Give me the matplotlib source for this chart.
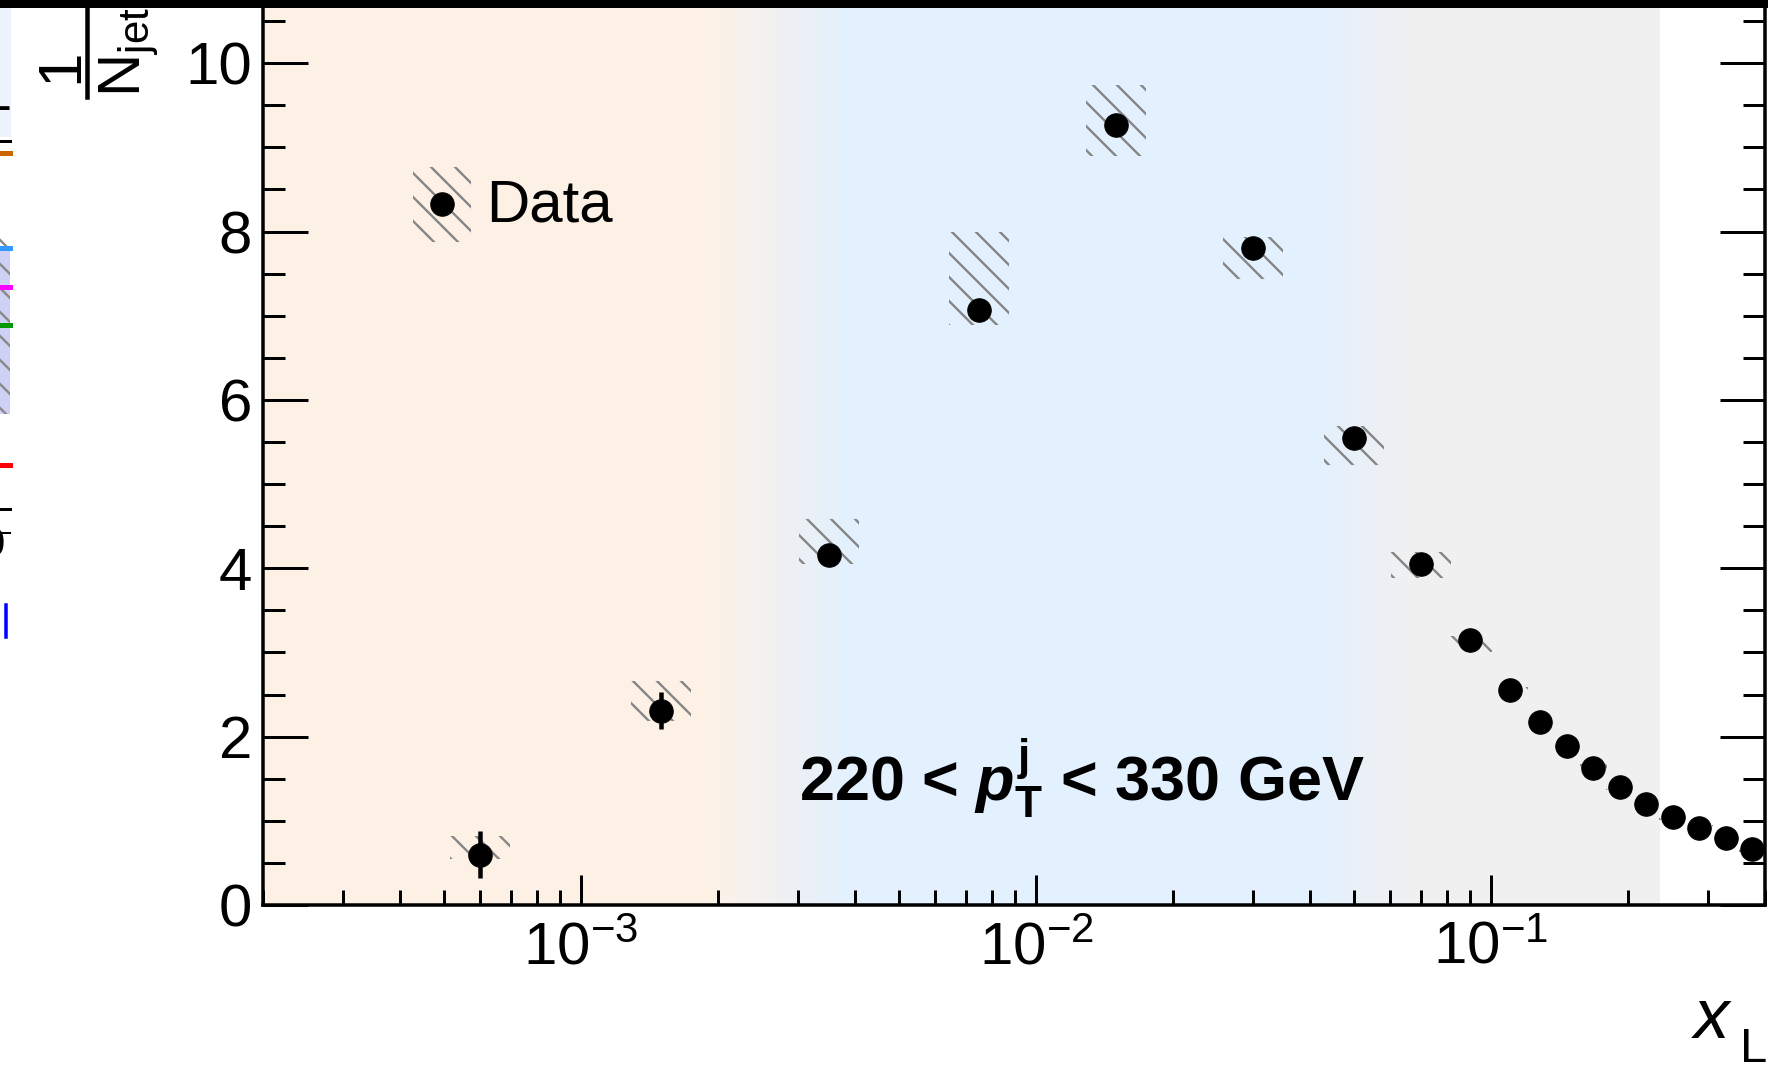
import numpy as np
import matplotlib
matplotlib.use("Agg")
import matplotlib.pyplot as plt
from matplotlib.patches import Rectangle
from matplotlib.colors import to_rgb
from matplotlib.ticker import LogLocator, NullFormatter, MultipleLocator

plt.rcParams['font.family'] = ['Liberation Sans', 'DejaVu Sans']
plt.rcParams['mathtext.fontset'] = 'custom'
plt.rcParams['mathtext.rm'] = 'Liberation Sans'
plt.rcParams['mathtext.it'] = 'Liberation Sans:italic:bold'
plt.rcParams['mathtext.bf'] = 'Liberation Sans:bold'
plt.rcParams['hatch.linewidth'] = 2.4

# ---------------- data ----------------
x_L = [6.0e-4, 1.5e-3, 3.5e-3, 7.5e-3, 0.0150, 0.0300, 0.0500, 0.0700,
       0.0898, 0.1098, 0.1284, 0.1469, 0.1679, 0.1917, 0.2194, 0.2506,
       0.2869, 0.3278, 0.3743]
values = [0.595, 2.305, 4.16, 7.07, 9.27, 7.80, 5.55, 4.05,
          3.15, 2.555, 2.178, 1.89, 1.632, 1.406, 1.204, 1.043,
          0.912, 0.793, 0.663]
stat_err = [0.28, 0.22, 0.10, 0.09, 0.08, 0.06, 0.05, 0.04,
            0.04, 0.03, 0.03, 0.03, 0.02, 0.02, 0.02, 0.02,
            0.02, 0.02, 0.02]
sys_low = [0.55, 2.18, 4.05, 6.89, 8.90, 7.43, 5.23, 3.89,
           3.01, 2.48, 2.13, 1.84, 1.59, 1.37, 1.17, 1.01,
           0.88, 0.76, 0.63]
sys_high = [0.82, 2.66, 4.59, 8.00, 9.74, 7.94, 5.69, 4.19,
            3.19, 2.59, 2.23, 1.94, 1.68, 1.45, 1.24, 1.08,
            0.95, 0.83, 0.70]
sys_halfwidth_dex = [0.066, 0.066, 0.066, 0.066, 0.066, 0.066, 0.066, 0.066,
                     0.048, 0.041, 0.030, 0.029, 0.029, 0.029, 0.029, 0.029,
                     0.029, 0.029, 0.029]

y_ticks = [0, 2, 4, 6, 8, 10]
bg_region_x = [2e-4, 1.9e-3, 3.8e-3, 0.042, 0.066, 0.2348]
bg_region_colors = ['#FDF1E6', '#FDF1E6', '#E3F0FD', '#E3F0FD', '#F0F0F0', '#F0F0F0']

legend_label = 'Data'
pt_label = r'220 < $\mathit{p}_{\mathbf{T}}^{\mathbf{j}}$ < 330 GeV'

# ---------------- figure ----------------
W, H = 1768, 1066
DPI = 72
fig = plt.figure(figsize=(W / DPI, H / DPI), dpi=DPI)
fig.patch.set_facecolor('white')

def fpx(x, ytop):
    return x / W, 1 - ytop / H

ax = fig.add_axes([263 / W, 161 / H, 1502 / W, 905 / H])
ax.set_xscale('log')
ax.set_xlim(2e-4, 0.4)
ax.set_ylim(0, 10.75)

# background gradient
lx = np.log10(bg_region_x)
edges = np.logspace(lx[0], lx[-1], 800)
centers = np.log10(np.sqrt(edges[:-1] * edges[1:]))
rgbs = np.array([to_rgb(c) for c in bg_region_colors])
cols = np.stack([np.interp(centers, lx, rgbs[:, k]) for k in range(3)], axis=-1)
ax.pcolormesh(edges, [0, 10.75], cols[np.newaxis, :, :], shading='flat',
              edgecolors='none', antialiased=False, zorder=0)

# systematic hatched boxes
for xi, lo, hi, hw in zip(x_L, sys_low, sys_high, sys_halfwidth_dex):
    x0 = xi * 10 ** (-hw)
    x1 = xi * 10 ** (hw)
    ax.add_patch(Rectangle((x0, lo), x1 - x0, hi - lo, facecolor='none',
                           edgecolor='#868686', linewidth=0, hatch='\\', zorder=2))

# data points
ax.errorbar(x_L, values, yerr=stat_err, fmt='o', color='black', ms=23.5,
            elinewidth=4.5, capsize=0, zorder=3)

# axes styling
ax.set_yticks(y_ticks)
ax.yaxis.set_minor_locator(MultipleLocator(0.5))
ax.xaxis.set_major_locator(LogLocator(base=10, numticks=10))
ax.xaxis.set_minor_locator(LogLocator(base=10, subs=np.arange(2, 10), numticks=20))
ax.xaxis.set_minor_formatter(NullFormatter())
for s in ['left', 'bottom', 'right']:
    ax.spines[s].set_linewidth(3.5)
ax.spines['top'].set_visible(False)
ax.tick_params(axis='y', which='major', direction='in', length=45, width=3,
               labelsize=60, pad=11, left=True, right=True)
ax.tick_params(axis='y', which='minor', direction='in', length=22, width=3,
               left=True, right=True)
ax.tick_params(axis='x', which='major', direction='in', length=30, width=3,
               labelsize=60, pad=16, top=False)
ax.tick_params(axis='x', which='minor', direction='in', length=15, width=3, top=False)

# legend (manual)
ax.add_patch(Rectangle((0.0999, 0.733), 0.0383, 0.0825, transform=ax.transAxes,
                       facecolor='none', edgecolor='#868686', linewidth=0,
                       hatch='\\', zorder=4))
ax.plot([0.119], [0.7743], 'o', color='black', ms=23.5, transform=ax.transAxes,
        zorder=5, clip_on=False)
ax.text(0.1485, 0.755, legend_label, transform=ax.transAxes, fontsize=60,
        va='baseline', ha='left', zorder=5)

# pT range text
ax.text(0.357, 0.1141, pt_label, transform=ax.transAxes, fontsize=63,
        fontweight='bold', va='baseline', ha='left', zorder=5)

# axis titles
fig.text(*fpx(1694, 1038), 'x', fontsize=71, fontstyle='italic',
         ha='left', va='baseline')
fig.text(*fpx(1740, 1062), 'L', fontsize=49, ha='left', va='baseline')
# y title: 1 / N_jet (rotated fraction, only its beginning is inside the crop)
fig.text(*fpx(62, 66), '1', fontsize=62, rotation=90, ha='center', va='center')
fig.add_artist(plt.Line2D([87 / W, 87 / W], [1 - 97 / H, 1.0],
                          transform=fig.transFigure, color='black', lw=4.5))
fig.text(*fpx(97, 97), r'$\mathrm{N}_{\mathrm{jet}}$', fontsize=60, rotation=90,
         ha='left', va='bottom')

# fragments of the neighbouring panel at the left edge
fig.add_artist(Rectangle(fpx(0, 137), 11 / W, 129 / H, transform=fig.transFigure,
                         facecolor='#EEF2FB', edgecolor='none'))
fig.text(*fpx(12, 110), '1', fontsize=60, ha='right', va='baseline')
fig.add_artist(Rectangle(fpx(0, 414), 10 / W, 166 / H, transform=fig.transFigure,
                         facecolor='#CFD0F6', edgecolor='none'))
fig.add_artist(Rectangle(fpx(0, 414), 10 / W, 185 / H, transform=fig.transFigure,
                         facecolor='none', edgecolor='#8a8a8a', linewidth=0,
                         hatch='\\'))
for yy, cc, lw in [(141, 'black', 3), (153, '#CC6600', 5), (248, '#3399FF', 5),
                   (287, '#FF00FF', 5), (325, '#009900', 5), (465, '#FF0000', 5),
                   (509, 'black', 3)]:
    fig.add_artist(plt.Line2D([0, 10 / W], [1 - yy / H, 1 - yy / H],
                              transform=fig.transFigure, color=cc, lw=lw))
fig.text(*fpx(5, 556), '0', fontsize=40, ha='right', va='baseline')
fig.add_artist(plt.Line2D([0, 10 / W], [1 - 533 / H, 1 - 533 / H],
                          transform=fig.transFigure, color='black', lw=2))
fig.add_artist(plt.Line2D([6 / W, 6 / W], [1 - 605 / H, 1 - 637 / H],
                          transform=fig.transFigure, color='#0000FF', lw=3.5))

# black band at the top edge
fig.add_artist(Rectangle((0, 1 - 8 / H), 1, 8 / H, transform=fig.transFigure,
                         facecolor='black', edgecolor='none', zorder=20))

fig.savefig('out.png', dpi=DPI)
